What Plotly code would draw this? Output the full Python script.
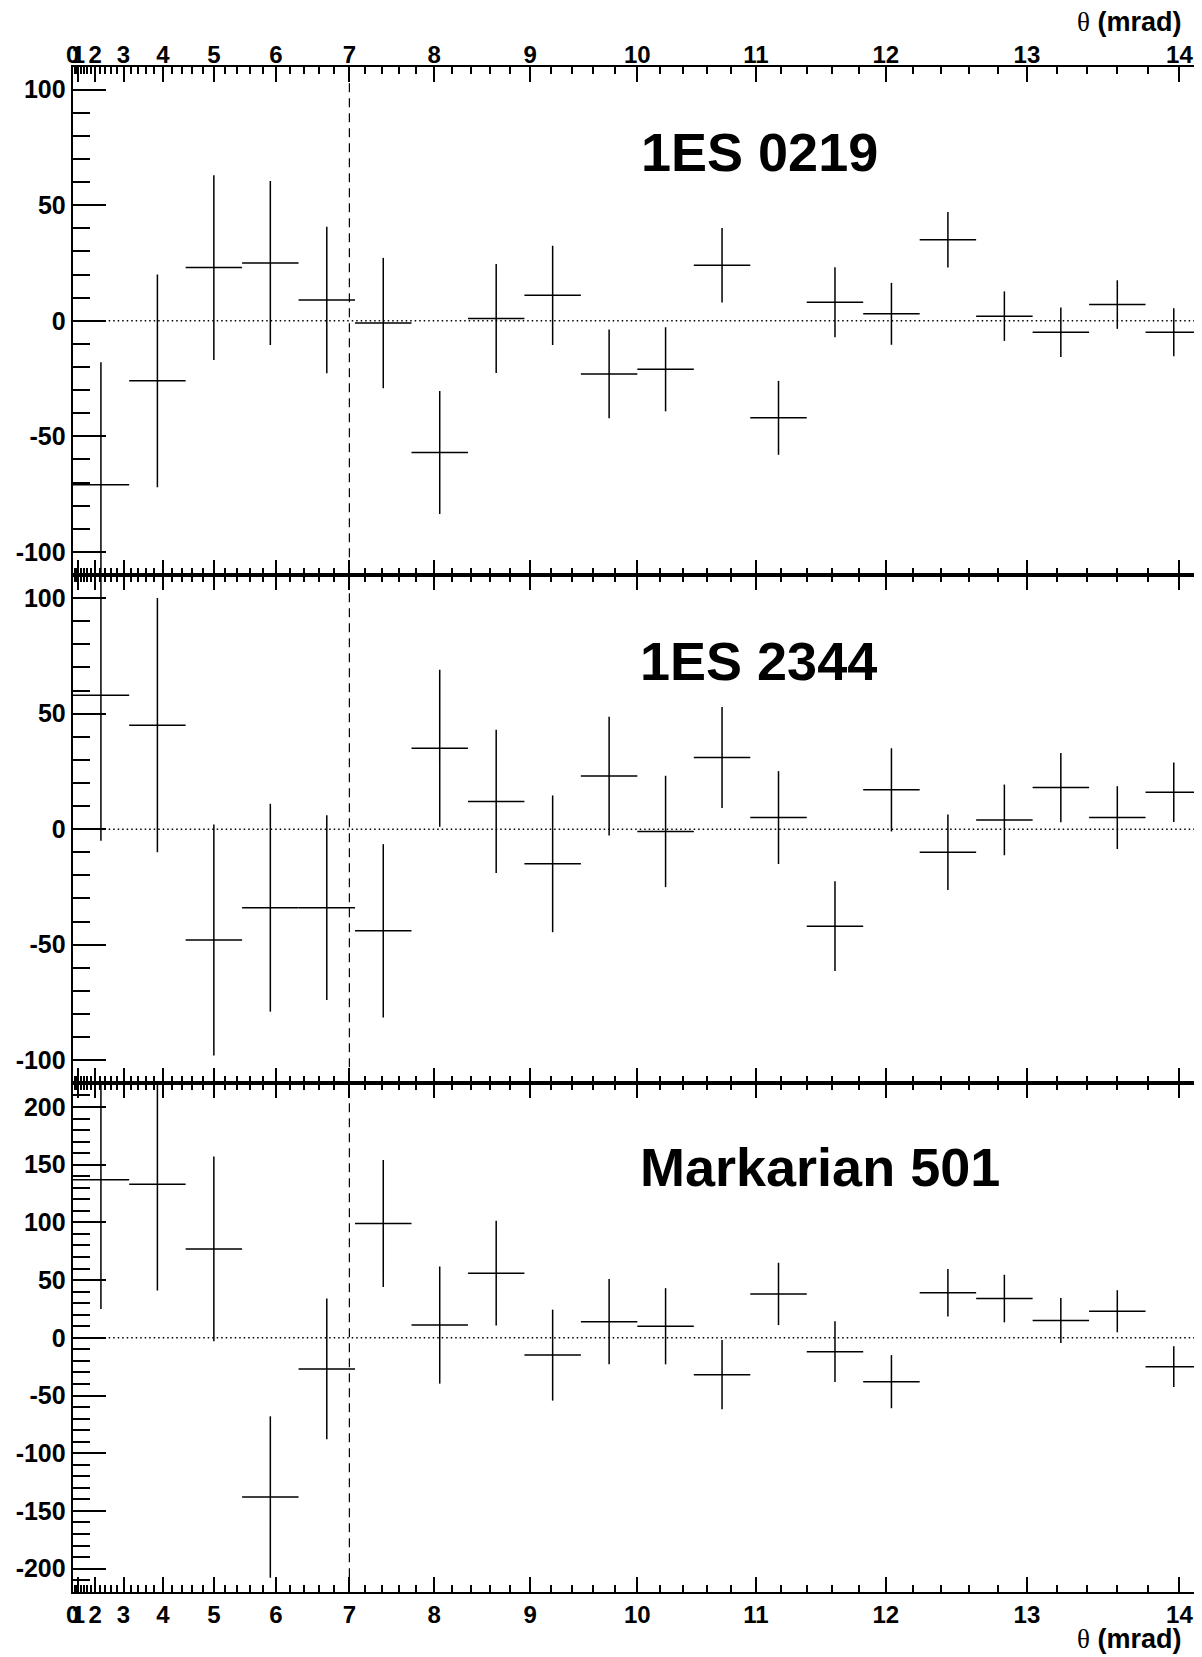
import plotly.graph_objects as go

# ---------------- data ----------------
# bin centres in theta^2 (mrad^2), 20 bins of width 10
theta2_centers = [5, 15, 25, 35, 45, 55, 65, 75, 85, 95,
                  105, 115, 125, 135, 145, 155, 165, 175, 185, 195]
theta2_halfwidth = [5] * 20

source_names = ["1ES 0219", "1ES 2344", "Markarian 501"]

es0219_excess = [-71, -26, 23, 25, 9, -1, -57, 1, 11, -23,
                 -21, 24, -42, 8, 3, 35, 2, -5, 7, -5]
es0219_error = [53, 46, 40, 35.5, 31.7, 28.2, 26.6, 23.6, 21.5, 19.2,
                18.2, 16.1, 16, 15.1, 13.4, 12, 10.7, 10.7, 10.5, 10.4]

es2344_excess = [58, 45, -48, -34, -34, -44, 35, 12, -15, 23,
                 -1, 31, 5, -42, 17, -10, 4, 18, 5, 16]
es2344_error = [63, 55, 50, 45, 40, 37.5, 34, 31, 29.6, 25.7,
                24.1, 21.9, 20.1, 19.4, 18, 16.3, 15.3, 15, 13.6, 12.9]

mrk501_excess = [137, 133, 77, -138, -27, 99, 11, 56, -15, 14,
                 10, -32, 38, -12, -38, 39, 34, 15, 23, -25]
mrk501_error = [112, 92, 80, 70, 61, 55, 50.7, 45.4, 39.4, 36.9,
                33, 30, 27, 26.4, 23, 20.6, 20.6, 19.5, 18.2, 17.7]

theta_tick_labels = [0, 1, 2, 3, 4, 5, 6, 7, 8, 9, 10, 11, 12, 13, 14]
theta_cut = 7  # mrad (dashed line)

y_ticks_small = [-100, -50, 0, 50, 100]
y_ticks_large = [-200, -150, -100, -50, 0, 50, 100, 150, 200]

panel_excess = [es0219_excess, es2344_excess, mrk501_excess]
panel_error = [es0219_error, es2344_error, mrk501_error]
panel_yrange = [[-110, 110], [-110, 110], [-220.5, 220.5]]
panel_yticks = [y_ticks_small, y_ticks_small, y_ticks_large]

# ---------------- layout helpers ----------------
# the page body has an 8px margin; the figure fills the rest of the window
PAGE_W, PAGE_H = 1202, 1657
OFF = 8
W, H = PAGE_W - OFF, PAGE_H - OFF
def pxx(p):
    return (p - OFF) / W
def pxy(p):
    return 1 - (p - OFF) / H

x_left = 72.7
panel_px = [(66.5, 575.0), (575.0, 1083.3), (1083.3, 1592.3)]

major_vals = [t * t for t in theta_tick_labels]
major_text = [str(t) for t in theta_tick_labels]
minor_vals = [(0.2 * k) ** 2 for k in range(71) if k % 5 != 0]

FONT = "Liberation Sans"

fig = go.Figure()

for i in range(3):
    xa = "x" if i == 0 else f"x{i+1}"
    ya = "y" if i == 0 else f"y{i+1}"
    fig.add_trace(go.Scatter(
        x=theta2_centers, y=panel_excess[i],
        mode="markers",
        marker=dict(size=0, opacity=0, color="black"),
        error_x=dict(type="data", array=theta2_halfwidth, width=0,
                     thickness=1.5, color="black"),
        error_y=dict(type="data", array=panel_error[i], width=0,
                     thickness=1.5, color="black"),
        xaxis=xa, yaxis=ya, showlegend=False, cliponaxis=True,
        hoverinfo="skip"))

layout = dict(
    width=W, height=H,
    margin=dict(l=0, r=0, t=0, b=0, autoexpand=False),
    paper_bgcolor="white", plot_bgcolor="white",
    showlegend=False,
)

for i in range(3):
    top, bot = panel_px[i]
    xkey = "xaxis" if i == 0 else f"xaxis{i+1}"
    ykey = "yaxis" if i == 0 else f"yaxis{i+1}"
    yname = "y" if i == 0 else f"y{i+1}"
    xname = "x" if i == 0 else f"x{i+1}"
    xa = dict(
        range=[0, 200], domain=[pxx(x_left), 1.0], anchor=yname,
        automargin=False,
        showline=True, linecolor="black", linewidth=2, mirror="ticks",
        ticks="inside", ticklen=15, tickwidth=2, tickcolor="black",
        tickmode="array", tickvals=major_vals, ticktext=major_text,
        tickangle=0,
        showgrid=False, zeroline=False,
        minor=dict(tickmode="array", tickvals=minor_vals, ticks="inside",
                   ticklen=7, tickwidth=1.5, tickcolor="black", showgrid=False),
        tickfont=dict(family=FONT, size=24, color="black", weight="bold"),
        fixedrange=True,
    )
    if i == 0:
        xa.update(side="top", showticklabels=True, ticklabelstandoff=-8)
    elif i == 1:
        xa.update(showticklabels=False)
    else:
        xa.update(side="bottom", showticklabels=True)
    ya = dict(
        range=panel_yrange[i], domain=[pxy(bot), pxy(top)], anchor=xname,
        automargin=False,
        showline=True, linecolor="black", linewidth=2,
        ticks="inside", ticklen=33, tickwidth=2, tickcolor="black",
        tickmode="array", tickvals=panel_yticks[i],
        ticktext=[str(v) for v in panel_yticks[i]],
        minor=dict(ticks="inside", ticklen=17, tickwidth=1.5, tickcolor="black",
                   tickmode="linear", dtick=10, tick0=0, showgrid=False),
        showgrid=False, zeroline=False,
        tickfont=dict(family=FONT, size=25, color="black", weight="bold"),
        fixedrange=True,
    )
    layout[xkey] = xa
    layout[ykey] = ya

fig.update_layout(**layout)

shapes = []
for i in range(3):
    xname = "x" if i == 0 else f"x{i+1}"
    yname = "y" if i == 0 else f"y{i+1}"
    shapes.append(dict(type="line", xref=f"{xname} domain", yref=yname,
                       x0=0, x1=1, y0=0, y1=0,
                       line=dict(color="black", width=1.5, dash="1.5px,3px")))
shapes.append(dict(type="line", xref="x", yref="paper",
                   x0=theta_cut ** 2, x1=theta_cut ** 2,
                   y0=pxy(panel_px[2][1]), y1=pxy(panel_px[0][0]),
                   line=dict(color="black", width=1.2, dash="9px,6px")))
fig.update_layout(shapes=shapes)

title_px = [(640, 151.7), (639, 660.9), (639, 1166.7)]
annotations = []
for i in range(3):
    px, py = title_px[i]
    annotations.append(dict(
        text=source_names[i], xref="paper", yref="paper",
        x=pxx(px), y=pxy(py), xanchor="left", yanchor="middle",
        showarrow=False, borderpad=0,
        font=dict(family=FONT, size=54, color="black", weight="bold")))

axis_title = ("<span style='font-family:Liberation Serif;font-weight:normal'>θ</span>"
              " <b>(mrad)</b>")
for py in (22, 1639):
    annotations.append(dict(
        text=axis_title, xref="paper", yref="paper",
        x=pxx(1182), y=pxy(py), xanchor="right", yanchor="middle",
        showarrow=False, borderpad=0,
        font=dict(family=FONT, size=27, color="black")))
fig.update_layout(annotations=annotations)

fig.write_html("out.html")
